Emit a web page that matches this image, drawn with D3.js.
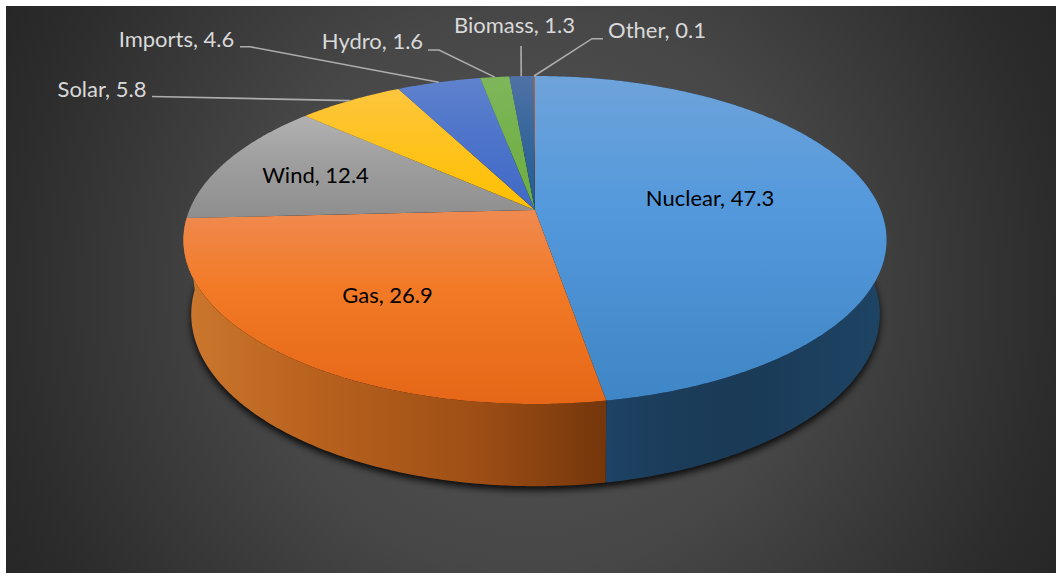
<!DOCTYPE html>
<html>
<head>
<meta charset="utf-8">
<script src="https://cdn.jsdelivr.net/npm/d3@7/dist/d3.min.js"></script>
<style>
  html, body { margin: 0; padding: 0; background: #fff; }
  svg { display: block; }
  text { font-family: Lato, "Open Sans", sans-serif; font-size: 22px; }
</style>
</head>
<body>
<div id="chart"></div>
<script>
// Electricity generation mix, percent share by source
const sources = ["Nuclear", "Gas", "Wind", "Solar", "Imports", "Hydro", "Biomass", "Other"];
const shares  = [47.3, 26.9, 12.4, 5.8, 4.6, 1.6, 1.3, 0.1];

// Face colours per source: upper, middle and lower gradient stop
const faceTop    = ["#6ea3da", "#ef8a50", "#b2b2b2", "#fdc63e", "#5f82cd", "#7fb65c", "#4f72a6", "#9a6e60"];
const faceMiddle = ["#5499dc", "#f27a26", "#a0a0a0", "#fec322", "#4f76ca", "#76b24e", "#39689c", "#8f5f50"];
const faceBottom = ["#3f86c6", "#e56717", "#8e8e8e", "#ffc000", "#3f69c8", "#6dae40", "#235d92", "#845444"];

const width = 1056, height = 576;

// Perspective projection of a disc: u runs rightward, v runs away from the viewer
const topDisc    = { cx: 535, cy: 210,   a: 345.6, b: 158.5, k: 0.183 };
const bottomDisc = { cx: 535.5, cy: 281.5, a: 338, b: 165.8, k: 0.19 };
const project = (d, angle) => {
  const u = Math.sin(angle), v = Math.cos(angle), w = 1 + d.k * v;
  return [d.cx + d.a * u / w, d.cy - d.b * v / w];
};

const pie = d3.pie().sort(null).startAngle(0).endAngle(2 * Math.PI);
const arcs = pie(shares);
const line = d3.line().curve(d3.curveLinear);

const arcPoints = (disc, a0, a1) => {
  const n = Math.max(2, Math.ceil((a1 - a0) / 0.01));
  return d3.range(n + 1).map(i => project(disc, a0 + (a1 - a0) * i / n));
};

const svg = d3.select("#chart").append("svg").attr("width", width).attr("height", height);
const defs = svg.append("defs");

const bg = defs.append("radialGradient").attr("id", "bg")
  .attr("gradientUnits", "userSpaceOnUse")
  .attr("cx", 530).attr("cy", 290).attr("r", 620);
[[0, "#555555"], [0.45, "#474747"], [0.85, "#2c2c2c"], [1, "#252525"]]
  .forEach(([o, c]) => bg.append("stop").attr("offset", o).attr("stop-color", c));

defs.append("filter").attr("id", "soft")
  .attr("x", "-10%").attr("y", "-10%").attr("width", "120%").attr("height", "120%")
  .append("feGaussianBlur").attr("stdDeviation", 3.5);

arcs.forEach((d, i) => {
  const g = defs.append("linearGradient").attr("id", `face${i}`)
    .attr("x1", 0).attr("y1", 0).attr("x2", 0).attr("y2", 1);
  g.append("stop").attr("offset", 0).attr("stop-color", faceTop[i]);
  g.append("stop").attr("offset", 0.4).attr("stop-color", faceMiddle[i]);
  g.append("stop").attr("offset", 1).attr("stop-color", faceBottom[i]);
});

// Horizontal shading on the side wall of the two front slices
const wallStops = [
  [[0, "#1e4464"], [0.5, "#1a3a56"], [0.8, "#1c3d5b"], [1, "#1e4366"]],
  [[0, "#cc772e"], [0.3, "#b8621e"], [0.7, "#9e4e15"], [1, "#74360b"]]
];
const wallSpan = [[882, 604], [186, 605]];
wallStops.forEach((stops, i) => {
  const g = defs.append("linearGradient").attr("id", `wall${i}`)
    .attr("gradientUnits", "userSpaceOnUse")
    .attr("x1", wallSpan[i][0]).attr("x2", wallSpan[i][1])
    .attr("y1", 0).attr("y2", 0);
  stops.forEach(([o, c]) => g.append("stop").attr("offset", o).attr("stop-color", c));
});

// Backdrop
svg.append("rect").attr("x", 6).attr("y", 6).attr("width", width - 6).attr("height", 567).attr("fill", "url(#bg)");

// Drop shadow beneath the lower rim
svg.append("path")
  .attr("d", line(arcPoints(bottomDisc, 0, 2 * Math.PI)) + "Z")
  .attr("transform", "translate(0,4)")
  .attr("fill", "#000").attr("opacity", 0.85).attr("filter", "url(#soft)");

// Side walls of the slices facing the viewer, swept as quads so the outline follows the rim tangents
arcs.slice(0, 2).forEach((d, i) => {
  const upper = arcPoints(topDisc, d.startAngle, d.endAngle);
  const lower = arcPoints(bottomDisc, d.startAngle, d.endAngle);
  const quads = d3.range(upper.length - 1)
    .map(j => line([upper[j], upper[j + 1], lower[j + 1], lower[j]]) + "Z")
    .join("");
  svg.append("path").attr("d", quads).attr("fill", `url(#wall${i})`);
});

// Top face
svg.append("g").selectAll("path").data(arcs).join("path")
  .attr("d", d => line([[topDisc.cx, topDisc.cy]].concat(arcPoints(topDisc, d.startAngle, d.endAngle))) + "Z")
  .attr("fill", (d, i) => `url(#face${i})`);

// Labels: text centre and baseline, and the elbow of the leader line when there is one
const labelPlacement = [
  { x: 710, y: 206, color: "#000" },
  { x: 387.5, y: 303, color: "#000" },
  { x: 315.5, y: 183, color: "#000" },
  { x: 102, y: 97, color: "#d9d9d9", elbow: [[152, 96.5]] },
  { x: 176.5, y: 47, color: "#d9d9d9", elbow: [[240, 46.7], [250, 46.7]] },
  { x: 372.5, y: 49, color: "#d9d9d9", elbow: [[428, 50], [439, 50]] },
  { x: 514.5, y: 33, color: "#d9d9d9", elbow: [[521, 46]] },
  { x: 657, y: 38, color: "#d9d9d9", elbow: [[603, 38.7], [592, 38.7]] }
];

// Leader lines run from the rim at each slice's mid-angle out to the label
const leaders = svg.append("g").attr("fill", "none").attr("stroke", "#adadad").attr("stroke-width", 1.6);
arcs.forEach((d, i) => {
  const p = labelPlacement[i];
  if (!p.elbow) return;
  const rim = project(topDisc, (d.startAngle + d.endAngle) / 2);
  leaders.append("path").attr("d", line(p.elbow.concat([rim])));
});

svg.append("g").selectAll("text").data(arcs).join("text")
  .attr("x", (d, i) => labelPlacement[i].x)
  .attr("y", (d, i) => labelPlacement[i].y)
  .attr("text-anchor", "middle")
  .attr("fill", (d, i) => labelPlacement[i].color)
  .text((d, i) => `${sources[i]}, ${d3.format(".1f")(d.data)}`);
</script>
</body>
</html>
